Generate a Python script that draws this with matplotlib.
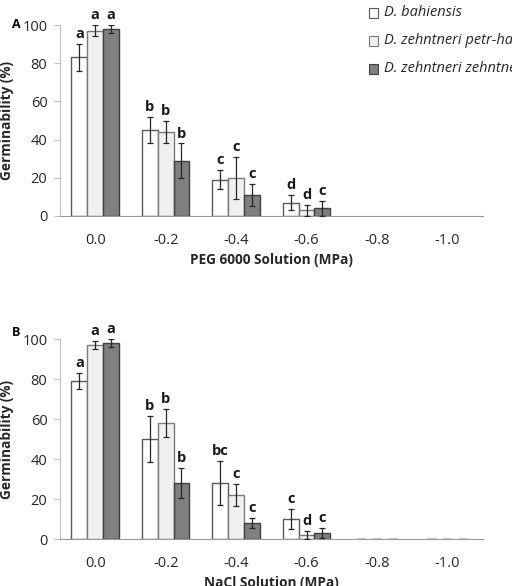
import matplotlib
matplotlib.use("Agg")
import matplotlib.pyplot as plt
import numpy as np

plt.rcParams['font.family'] = ['Open Sans', 'DejaVu Sans']

categories = ["0.0", "-0.2", "-0.4", "-0.6", "-0.8", "-1.0"]
series_names = ["D. bahiensis", "D. zehntneri petr-halfarii", "D. zehntneri zehntneri"]

peg_vals = [
    [83, 45, 19, 7, 0, 0],
    [97, 44, 20, 3, 0, 0],
    [98, 29, 11, 4, 0, 0],
]
peg_err = [
    [7, 7, 5, 4, 0, 0],
    [3, 6, 11, 3, 0, 0],
    [2, 9, 6, 4, 0, 0],
]
peg_letters = [
    ["a", "b", "c", "d", "", ""],
    ["a", "b", "c", "d", "", ""],
    ["a", "b", "c", "c", "", ""],
]

nacl_vals = [
    [79, 50, 28, 10, 0, 0],
    [97, 58, 22, 2, 0, 0],
    [98, 28, 8, 3, 0, 0],
]
nacl_err = [
    [4, 11.5, 11, 5, 0, 0],
    [2, 7, 5.7, 2, 0, 0],
    [2, 7.5, 2.5, 2.3, 0, 0],
]
nacl_letters = [
    ["a", "b", "bc", "c", "", ""],
    ["a", "b", "c", "d", "", ""],
    ["a", "b", "c", "c", "", ""],
]

fills = ["#ffffff", "#f0f0f0", "#7f7f7f"]
edges = ["#595959", "#7a7a7a", "#404040"]

fig = plt.figure(figsize=(5.12, 5.86), dpi=100)

def panel(rect, vals, errs, letters, xlabel, zero_edges):
    ax = fig.add_axes(rect)
    x = np.arange(len(categories))
    w = 0.224
    for i in range(3):
        pos = x + (i - 1) * w
        v = np.array(vals[i], dtype=float)
        e = np.array(errs[i], dtype=float)
        nz = v > 0
        ax.bar(pos[nz], v[nz], width=w, color=fills[i], edgecolor=edges[i], linewidth=1.0, zorder=2)
        if zero_edges:
            ax.bar(pos[~nz], np.full((~nz).sum(), 0.4), width=w * 0.6, color="#c8c8c8",
                   edgecolor="none", zorder=2)
        ax.errorbar(pos[nz], v[nz], yerr=e[nz], fmt="none", ecolor="#262626",
                    elinewidth=0.9, capsize=2.5, capthick=0.9, zorder=3)
        for p, vv, ee, lab in zip(pos, v, e, letters[i]):
            if lab:
                ax.text(p, vv + ee + 1.5, lab, ha="center", va="bottom",
                        fontsize=10.5, fontweight="bold", color="#1a1a1a")
    ax.set_xlim(-0.5, len(categories) - 0.5)
    ax.set_ylim(0, 100)
    ax.set_yticks([0, 20, 40, 60, 80, 100])
    ax.set_xticks(x)
    ax.set_xticklabels(categories)
    ax.tick_params(axis="x", length=0, labelsize=10.5, labelcolor="#262626", pad=12)
    ax.tick_params(axis="y", length=4, width=0.8, color="#bfbfbf", direction="out",
                   labelsize=10.5, labelcolor="#262626", pad=5)
    for s in ["top", "right"]:
        ax.spines[s].set_visible(False)
    ax.spines["left"].set_color("#bfbfbf")
    ax.spines["bottom"].set_color("#9a9a9a")
    ax.set_ylabel("Germinability (%)", fontsize=9.8, fontweight="bold", color="#262626", labelpad=6)
    ax.set_xlabel(xlabel, fontsize=9.8, fontweight="bold", color="#262626", labelpad=4)
    return ax

axA = panel([0.117, 0.6314, 0.826, 0.3259], peg_vals, peg_err, peg_letters,
            "PEG 6000 Solution (MPa)", False)
axB = panel([0.117, 0.0802, 0.826, 0.3413], nacl_vals, nacl_err, nacl_letters,
            "NaCl Solution (MPa)", True)

fig.text(12 / 512, 1 - 25 / 586, "A", fontsize=9, fontweight="bold", ha="left", va="center")
fig.text(12 / 512, 1 - 332 / 586, "B", fontsize=9, fontweight="bold", ha="left", va="center")

# Legend
ly = [13, 41, 69]
for i, name in enumerate(series_names):
    yy = 1 - ly[i] / 586
    fig.patches.append(plt.Rectangle((369 / 512, yy - 5 / 586), 9 / 512, 10 / 586,
                                     transform=fig.transFigure, facecolor=fills[i],
                                     edgecolor=edges[i], linewidth=0.8))
    fig.text(384 / 512, yy, name, fontsize=10.5, fontstyle="italic", ha="left",
             va="center", color="#262626")

fig.savefig("out.png", dpi=100)
